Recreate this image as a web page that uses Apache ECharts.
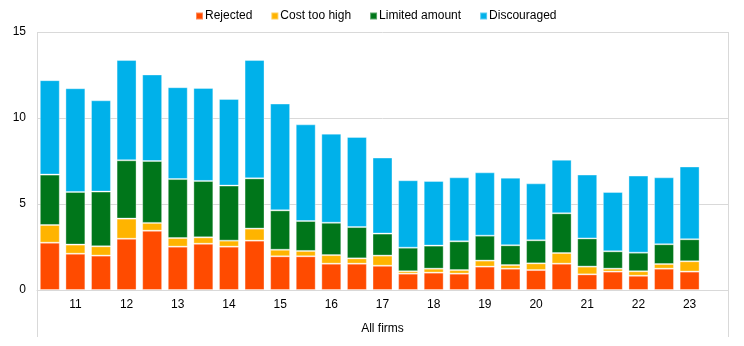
<!DOCTYPE html>
<html>
<head>
<meta charset="utf-8">
<script src="https://cdn.jsdelivr.net/npm/echarts@6/dist/echarts.min.js"></script>
<style>html,body{margin:0;padding:0;background:#fff}#c{width:744px;height:346px}</style>
</head>
<body>
<div id="c"></div>
<script>
const categories = ['', '11', '', '12', '', '13', '', '14', '', '15', '', '16', '', '17', '', '18', '', '19', '', '20', '', '21', '', '22', '', '23', ''];
const rejected =    [2.75, 2.11, 2.00, 2.98, 3.45, 2.52, 2.69, 2.52, 2.87, 1.96, 1.96, 1.53, 1.53, 1.41, 0.95, 1.01, 0.95, 1.36, 1.24, 1.16, 1.53, 0.91, 1.07, 0.83, 1.24, 1.07, null];
const costTooHigh = [1.03, 0.53, 0.54, 1.17, 0.45, 0.50, 0.37, 0.35, 0.70, 0.38, 0.31, 0.50, 0.31, 0.59, 0.14, 0.23, 0.21, 0.35, 0.21, 0.39, 0.62, 0.45, 0.17, 0.26, 0.27, 0.60, null];
const limitedAmount=[2.93, 3.06, 3.18, 3.39, 3.60, 3.43, 3.28, 3.20, 2.92, 2.29, 1.74, 1.88, 1.82, 1.28, 1.37, 1.34, 1.67, 1.45, 1.15, 1.34, 2.31, 1.64, 1.01, 1.08, 1.15, 1.28, null];
const discouraged = [5.49, 6.03, 5.31, 5.83, 5.03, 5.34, 5.41, 5.04, 6.88, 6.21, 5.62, 5.18, 5.24, 4.42, 3.92, 3.76, 3.72, 3.68, 3.93, 3.31, 3.11, 3.71, 3.45, 4.48, 3.89, 4.23, null];
const seriesNames = ['Rejected', 'Cost too high', 'Limited amount', 'Discouraged'];
const colors = ['#FF4B00', '#FFB400', '#00761A', '#00B1EA'];
const yTicks = [0, 5, 10, 15];

const chart = echarts.init(document.getElementById('c'), null, {renderer: 'canvas'});
const font = 'Arial, "Liberation Sans", sans-serif';
const data = [rejected, costTooHigh, limitedAmount, discouraged];
chart.setOption({
  animation: false,
  textStyle: {fontFamily: font},
  color: colors,
  legend: {
    top: 5, left: 190,
    itemWidth: 7, itemHeight: 7, itemGap: 18,
    icon: 'rect',
    textStyle: {fontSize: 12, color: '#000', fontFamily: font, padding: [0, 0, 0, -3]},
    data: seriesNames
  },
  grid: {left: 37, right: 16, top: 32, bottom: 56, containLabel: false},
  xAxis: {
    type: 'category', data: categories,
    axisLine: {lineStyle: {color: '#d9d9d9', width: 1}},
    axisTick: {show: false},
    axisLabel: {interval: 0, color: '#000', fontSize: 12, margin: 9, fontFamily: font},
    name: 'All firms', nameLocation: 'middle', nameGap: 33,
    nameTextStyle: {color: '#000', fontSize: 12, fontFamily: font}
  },
  yAxis: {
    type: 'value', min: yTicks[0], max: yTicks[yTicks.length - 1], interval: 5,
    axisLine: {show: false}, axisTick: {show: false},
    splitLine: {lineStyle: {color: '#d9d9d9', width: 1}},
    axisLabel: {color: '#000', fontSize: 12, margin: 11, fontFamily: font}
  },
  graphic: [
    {type: 'line', shape: {x1: 37.5, y1: 32, x2: 37.5, y2: 337}, style: {stroke: '#d9d9d9', lineWidth: 1}, silent: true},
    {type: 'line', shape: {x1: 728.5, y1: 32, x2: 728.5, y2: 337}, style: {stroke: '#d9d9d9', lineWidth: 1}, silent: true}
  ],
  series: seriesNames.map((n, i) => ({
    name: n, type: 'bar', stack: 'total', data: data[i],
    barCategoryGap: '22%',
    itemStyle: {color: colors[i], borderColor: 'rgba(255,255,255,0.35)', borderWidth: 1}
  }))
});
</script>
</body>
</html>
